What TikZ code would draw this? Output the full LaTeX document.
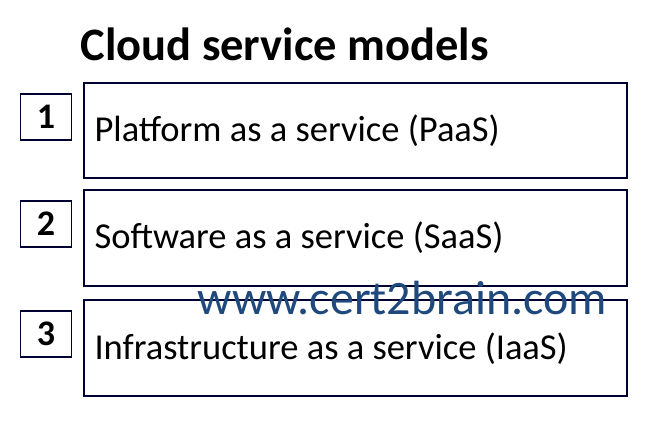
\documentclass[tikz,border=0pt]{standalone}
\usepackage{fontspec}
\setmainfont{Carlito}
\begin{document}
\begin{tikzpicture}[x=1pt,y=-1pt,
 bigbox/.style={draw=black!80!blue,line width=1.2pt},
 numbox/.style={draw=black!80!blue,line width=1.2pt,minimum width=51pt,minimum height=46pt,inner sep=0pt,font=\fontsize{36}{38}\selectfont\bfseries},
 lbl/.style={anchor=west,font=\fontsize{36.5}{38}\selectfont}]
\useasboundingbox (0,0) rectangle (653,424);
\node[anchor=west,font=\fontsize{46.5}{48}\selectfont\bfseries] (title) at (77,44) {Cloud service models};
\draw[bigbox] (84,83) rectangle (627,178);
\draw[bigbox] (84,190) rectangle (627,286);
\draw[bigbox] (84,300) rectangle (627,396);
\node[numbox] (n1) at (46,117) {1};
\node[numbox] (n2) at (46,224) {2};
\node[numbox] (n3) at (46,334) {3};
\node[lbl] (t1) at (91,131) {Platform as a service (PaaS)};
\node[lbl] (t2) at (91,238) {Software as a service (SaaS)};
\node[lbl] (t3) at (91,349) {Infrastructure as a service (IaaS)};
\node[anchor=west,font=\fontsize{48}{50}\selectfont,text={rgb,255:red,31;green,73;blue,125}] (wm) at (194,298) {www.cert2brain.com};
\end{tikzpicture}
\end{document}
